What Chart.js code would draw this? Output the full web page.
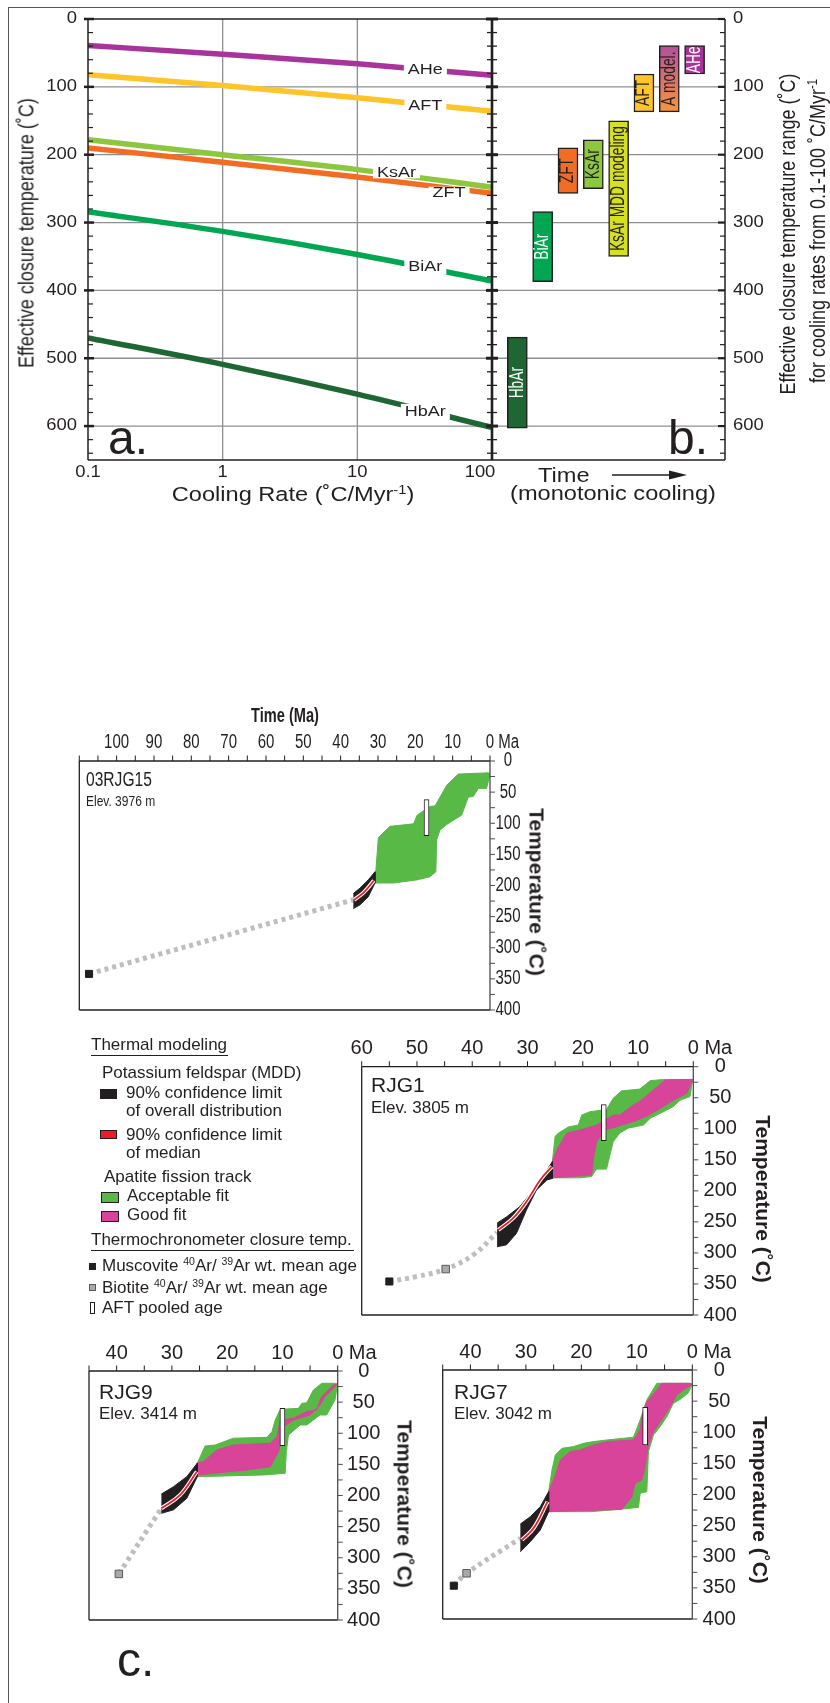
<!DOCTYPE html>
<html lang="en">
<head>
<meta charset="utf-8">
<title>Closure temperatures and thermal histories</title>
<script src="https://cdn.jsdelivr.net/npm/chart.js@4.4.1/dist/chart.umd.min.js"></script>
<style>
  body { margin: 0; background: #fff; }
  #fig { position: relative; width: 830px; height: 1703px; overflow: hidden; background: #fff;
         font-family: "Liberation Sans", Arial, Helvetica, sans-serif; color: #231f20; }
  #fig canvas { position: absolute; left: 0; top: 0; }
  .t { position: absolute; white-space: nowrap; line-height: 1; }
  .t sup { font-size: 0.62em; line-height: 0; vertical-align: 0.55em; }
  .sw { position: absolute; box-sizing: border-box; border: 1px solid #231f20; }
  .rule { position: absolute; height: 0; border-top: 1.2px solid #231f20; }
  #border { position: absolute; left: 8px; top: 7px; right: -10px; bottom: -10px;
            border-left: 1.5px solid #555; border-top: 1.5px solid #555; }
</style>
</head>
<body>
<div id="fig">
  <div id="border"></div>
  <canvas id="chartA" width="830" height="1703"></canvas>
  <canvas id="chartB" width="830" height="1703"></canvas>
  <canvas id="chart15" width="830" height="1703"></canvas>
  <canvas id="chartRJG1" width="830" height="1703"></canvas>
  <canvas id="chartRJG9" width="830" height="1703"></canvas>
  <canvas id="chartRJG7" width="830" height="1703"></canvas>
</div>
<script>
// ---- a. effective closure temperature vs cooling rate
const coolingRates = [0.1, 1, 10, 100];
const closureAHe  = [39, 52, 66, 83];
const closureAFT  = [82, 98, 116, 136];
const closureKsAr = [178, 200, 222, 248];
const closureZFT  = [190, 211, 233, 257];
const closureBiAr = [284, 313, 347, 386];
const closureHbAr = [470, 509, 553, 602];
const closureNames = ['AHe', 'AFT', 'KsAr', 'ZFT', 'BiAr', 'HbAr'];
const closureLabelRate = [32, 32, 19.5, 48, 32, 32];
const closureLabelTemp = [74, 128, 226, 256, 365, 579];
const rateTicks = [0.1, 1, 10, 100];
const rateTickLabels = ['0.1', '1', '10', '100'];
const tempTicksAB = [0, 100, 200, 300, 400, 500, 600];

// ---- b. closure temperature ranges for 0.1-100 C/Myr
const rangeNames = ['HbAr', 'BiAr', 'ZFT', 'KsAr', 'KsAr MDD modeling', 'AFT', 'A model.', 'AHe'];
const rangeLow  = [469, 284, 190, 178, 150, 81, 39, 39];
const rangeHigh = [603, 387, 257, 250, 350, 137, 137, 81];

// ---- c. thermal histories, [age Ma, temperature C]
const tempLabelsC = [0, 50, 100, 150, 200, 250, 300, 350, 400];
const ageLabels15 = [100, 90, 80, 70, 60, 50, 40, 30, 20, 10, 0];
const ageLabelsRJG1 = [60, 50, 40, 30, 20, 10, 0];
const ageLabels45 = [40, 30, 20, 10, 0];

const rjg15Acceptable = [[30.8,194],[29.9,123],[26.8,105],[20.5,101],[19.5,87],[16.1,73],[14.7,72],[11.6,39],[8.5,21],[0.4,19],[0,21],
  [0.9,44],[3.1,44],[4.5,57],[5.8,58],[7.6,87],[10.3,97],[11.6,102],[13.4,111],[14.3,127],[14.5,178],[16.1,186],[19.6,191],[25.9,196],[30.8,196]];
const rjg15Kfs = [[36.6,213],[34.8,204],[32.6,191],[30.8,178],[30.8,196],[32.6,218],[34.8,231],[36.6,237]];
const rjg15Median = [[36.4,223],[33.8,211],[31.1,192]];
const rjg15Link = [[107.4,342],[36.6,223]];
const rjg15Muscovite = [107.4, 342];
const rjg15Aft = [17, 62, 120];

const rjg1Acceptable = [[25.5,153],[25,112],[24.4,107],[22.6,97],[20.8,94],[20.2,78],[18.7,72.5],[15.7,69],[14.5,51],[13,39],[9.7,36],[7.8,22.5],[5.4,20.5],[0.1,20.5],
  [0.6,48],[2.4,54],[3.6,64],[5.4,72.5],[7.8,83],[9,94],[11.8,99],[13.3,107],[14.5,121],[15.7,165],[17.5,165],[18.4,177],[20.5,179],[25.5,179]];
const rjg1Good = [[25.5,153],[24.7,134],[22.9,107],[20.5,102],[17.5,94],[14.5,78],[13.3,78],[10.9,62],[9.7,56],[5.1,21.5],[0.1,20.5],
  [1.2,43],[3.6,54],[5.4,64],[8.4,79.5],[10.9,88.6],[13.9,96.6],[16,102],[17.5,121],[18.1,150],[18.4,174.5],[25.5,179]];
const rjg1Kfs = [[35.5,252],[33.8,242],[31.4,225.5],[29,199],[27.1,174.5],[25.5,153],[25.5,180],[26.5,182.5],[28.4,199],[30.2,231],[32,268.5],[33.8,287],[35.5,290]];
const rjg1Median = [[35.3,263],[32.6,244],[30.2,217.5],[27.7,182.5],[25.6,161]];
const rjg1Link = [[55,346],[50,338],[44.8,326],[39.8,303],[35.5,267]];
const rjg1Muscovite = [55, 346];
const rjg1Biotite = [44.8, 326];
const rjg1Aft = [16.2, 61, 119];

const rjg9Acceptable = [[25.4,148],[24,120.5],[22.2,119],[18.9,108],[12.8,106.6],[11.9,97.5],[11.3,78.7],[10.4,61.6],[7.1,60],[6.5,52],[5.6,51],[4.4,30.5],[2.9,19.8],[0.5,19.8],[0,21],
  [0.5,46.6],[2,70.7],[3.2,70.7],[4.4,78.7],[5.6,86.7],[6.8,86.7],[8.9,102.8],[9.3,129.6],[9.5,164.4],[13.4,167],[25.4,169.7]];
const rjg9Good = [[25.4,148],[24.3,145.6],[21.9,127],[18.9,119],[12.2,116],[11,105.5],[10.4,78.7],[8,76],[5.6,65],[3.8,62.6],[2.9,41],[0.8,22.5],[0,21],
  [1.1,30.5],[2.3,41],[3.2,54.6],[5,70.7],[8,78.7],[9.8,89.4],[10.7,129.6],[12.2,153.7],[16.4,159],[25.4,167]];
const rjg9Kfs = [[31.9,197.6],[29.7,185.8],[27.3,169.7],[25.4,148],[25.4,169.7],[27.3,204.5],[29.7,223],[31.9,228.6]];
const rjg9Median = [[31.9,220.6],[28.5,199],[25.5,161.7]];
const rjg9Link = [[39.6,326],[31.9,220.6]];
const rjg9Biotite = [39.6, 326];
const rjg9Aft = [10, 60, 120];

const rjg7Acceptable = [[25.9,195.4],[25.3,160.6],[24.7,136.5],[23.5,125.8],[21.4,123],[19.6,117.8],[17.8,115],[15.4,112.4],[10.6,108],[9.4,80],[8.2,48],[6.4,21.4],[0.4,21.4],[0,22.5],
  [0.7,36.4],[1.9,45.5],[3.4,53.5],[4.6,75],[5.8,91],[7,104.4],[7.9,131],[8.2,195.4],[9.4,198],[9.7,220.6],[13,223.8],[18.4,227.6],[25.9,227.6]];
const rjg7Good = [[25.9,195.4],[25,176.7],[23.8,144.6],[22,131],[20.2,128.5],[17.8,120.5],[15.4,115],[10.6,112.4],[9.4,96.4],[9.1,75],[8.2,51],[6.4,32],[5.5,21.4],[0.4,21.4],[0,22.5],
  [1.6,32],[2.8,40],[4.3,64],[7,99],[7.9,120.5],[8.5,155.3],[9.1,176.7],[10.3,182],[10.9,203.5],[12.7,223.8],[25.9,227.6]];
const rjg7Kfs = [[31,247.4],[29.2,235.6],[27.4,219.5],[25.9,195.4],[25.9,227.6],[27.4,257],[29.2,275.8],[31,292]];
const rjg7Median = [[30.7,273],[28.6,254],[26.1,211.5]];
const rjg7Link = [[43,346.5],[40.7,326.6],[31,270.4]];
const rjg7Muscovite = [43, 346.5];
const rjg7Biotite = [40.7, 326.6];
const rjg7Aft = [8.5, 60, 120.5];

// ---- colours
const W = 830, H = 1703;
const FONT = '"Liberation Sans", Arial, Helvetica, sans-serif';
const INK = '#231f20', GRID = '#8d8f92', AXIS_GREY = '#4d4d4f';
const closureColors = ['#a8339a', '#fdc52a', '#8dc63f', '#f26c23', '#00a651', '#1e6633'];
const rangeColors = ['#1e6633', '#00a651', '#f26c23', '#8dc63f', '#d5e021', '#fdc52a', '#c96b8a', '#a8339a'];
const rangeTextColors = ['#fff', '#fff', INK, INK, INK, INK, INK, '#fff'];
const FIT_OK = '#58b947', FIT_GOOD = '#d8449a', KFS = '#231f20', MEDIAN = '#ed1c24', DOT = '#bcbec0';

function seg(ctx, x1, y1, x2, y2, w, c) {
  ctx.save();
  ctx.strokeStyle = c; ctx.lineWidth = w;
  ctx.beginPath(); ctx.moveTo(x1, y1); ctx.lineTo(x2, y2); ctx.stroke();
  ctx.restore();
}

function drawText(ctx, s, x, y, o) {
  ctx.save();
  ctx.font = (o.bold ? 'bold ' : '') + o.size + 'px ' + FONT;
  ctx.fillStyle = o.color || INK;
  ctx.textAlign = o.align || 'center';
  ctx.textBaseline = 'middle';
  ctx.translate(x, y);
  if (o.rot) ctx.rotate(o.rot);
  ctx.scale(o.sx || 1, o.sy || 1);
  ctx.fillText(s, 0, 0);
  ctx.restore();
}

function pad(l, t, r, b) { return {left: l, top: t, right: W - r, bottom: H - b}; }
function pts(list) { return list.map(p => ({x: p[0], y: p[1]})); }

const common = {
  responsive: false,
  animation: false,
  events: [],
  plugins: {legend: {display: false}, tooltip: {enabled: false}},
  elements: {point: {radius: 0}}
};

// ---------------- panel a
const panelAFrame = {
  id: 'panelAFrame',
  beforeDatasetsDraw(chart) {
    const {ctx, chartArea: a, scales: {x, y}} = chart;
    [1, 10].forEach(v => { const px = x.getPixelForValue(v); seg(ctx, px, a.top, px, a.bottom, 1.3, GRID); });
    tempTicksAB.slice(1).forEach(v => { const py = y.getPixelForValue(v); seg(ctx, a.left, py, a.right, py, 1.3, GRID); });
  },
  afterDatasetsDraw(chart) {
    const {ctx, chartArea: a, scales: {x, y}} = chart;
    closureNames.forEach((name, i) => {
      const px = x.getPixelForValue(closureLabelRate[i]);
      const py = y.getPixelForValue(closureLabelTemp[i]);
      ctx.font = '15px ' + FONT;
      const w = ctx.measureText(name).width * 1.2;
      const h = (name === 'KsAr' || name === 'ZFT') ? 12 : 16;
      ctx.fillStyle = '#fff';
      ctx.fillRect(px - w / 2 - 4, py - h / 2, w + 8, h);
      drawText(ctx, name, px, py + 0.5, {size: 15, sx: 1.2});
    });
    seg(ctx, a.left, a.top, a.right, a.top, 1.5, INK);
    seg(ctx, a.left, a.bottom, a.right, a.bottom, 1.5, INK);
    seg(ctx, a.left, a.top, a.left, a.bottom, 1.5, INK);
    for (let v = 0; v <= 640; v += 20) {
      const py = y.getPixelForValue(v);
      if (v % 100 === 0) seg(ctx, a.left - 4, py, a.left + 6, py, 2.5, INK);
      else seg(ctx, a.left, py, a.left + 5, py, 1.2, INK);
    }
    tempTicksAB.forEach(v => drawText(ctx, String(v), a.left - 11, y.getPixelForValue(v), {size: 16, sx: 1.15, align: 'right'}));
    rateTicks.forEach((v, i) => drawText(ctx, rateTickLabels[i], x.getPixelForValue(v) - (i === 3 ? 12 : 0), a.bottom + 13, {size: 16, sx: 1.15}));
  }
};

const closureSeries = [closureAHe, closureAFT, closureKsAr, closureZFT, closureBiAr, closureHbAr];
new Chart(document.getElementById('chartA'), {
  type: 'line',
  data: {
    datasets: closureSeries.map((vals, i) => ({
      label: closureNames[i],
      data: vals.map((t, j) => ({x: coolingRates[j], y: t})),
      borderColor: closureColors[i],
      borderWidth: 5.5,
      borderCapStyle: 'butt',
      cubicInterpolationMode: 'monotone'
    }))
  },
  options: Object.assign({}, common, {
    layout: {padding: pad(88, 19, 492, 460)},
    scales: {
      x: {type: 'logarithmic', min: 0.1, max: 100, display: false},
      y: {type: 'linear', min: 0, max: 650, reverse: true, display: false}
    }
  }),
  plugins: [panelAFrame]
});

// ---------------- panel b
const panelBFrame = {
  id: 'panelBFrame',
  beforeDatasetsDraw(chart) {
    const {ctx, chartArea: a, scales: {y}} = chart;
    tempTicksAB.slice(1).forEach(v => { const py = y.getPixelForValue(v); seg(ctx, a.left, py, a.right, py, 1.3, GRID); });
  },
  afterDatasetsDraw(chart) {
    const {ctx, chartArea: a, scales: {y}} = chart;
    chart.getDatasetMeta(0).data.forEach((bar, i) => {
      drawText(ctx, rangeNames[i], bar.x, (bar.y + bar.base) / 2,
        {size: 13.8, sy: 1.4, rot: -Math.PI / 2, color: rangeTextColors[i]});
    });
    seg(ctx, a.left, a.top, a.right, a.top, 1.5, INK);
    seg(ctx, a.left, a.bottom, a.right, a.bottom, 1.5, INK);
    seg(ctx, a.right, a.top, a.right, a.bottom, 1.5, INK);
    seg(ctx, a.left, a.top, a.left, a.bottom, 2.6, INK);
    for (let v = 0; v <= 640; v += 20) {
      const py = y.getPixelForValue(v);
      if (v % 100 === 0) {
        seg(ctx, a.left - 6, py, a.left + 6, py, 3, INK);
        seg(ctx, a.right - 7, py, a.right, py, 2.2, INK);
      } else {
        seg(ctx, a.left - 5, py, a.left + 5, py, 1.3, INK);
        seg(ctx, a.right - 5, py, a.right, py, 1.2, INK);
      }
    }
    tempTicksAB.forEach(v => drawText(ctx, String(v), a.right + 8, y.getPixelForValue(v), {size: 16, sx: 1.15, align: 'left'}));
    // time arrow
    const ay = a.bottom + 15;
    seg(ctx, a.left + 120, ay, a.left + 180, ay, 1.5, INK);
    ctx.save();
    ctx.fillStyle = INK;
    ctx.beginPath();
    ctx.moveTo(a.left + 195, ay); ctx.lineTo(a.left + 177, ay - 4.5); ctx.lineTo(a.left + 177, ay + 4.5);
    ctx.closePath(); ctx.fill();
    ctx.restore();
  }
};

new Chart(document.getElementById('chartB'), {
  type: 'bar',
  data: {
    datasets: [{
      label: 'closure range',
      data: rangeNames.map((n, i) => ({x: i + 1, y: [rangeLow[i], rangeHigh[i]]})),
      backgroundColor: c => {
        if (c.dataIndex !== 6 || !c.chart.scales.y) return rangeColors[c.dataIndex];
        const y = c.chart.scales.y;
        const g = c.chart.ctx.createLinearGradient(0, y.getPixelForValue(rangeLow[6]), 0, y.getPixelForValue(rangeHigh[6]));
        g.addColorStop(0, '#b1509d');
        g.addColorStop(1, '#f7963a');
        return g;
      },
      borderColor: INK,
      borderWidth: 1.5,
      borderSkipped: false,
      barThickness: 20
    }]
  },
  options: Object.assign({}, common, {
    layout: {padding: pad(492, 19, 725, 460)},
    scales: {
      x: {type: 'linear', min: 0, max: 9.2, display: false, offset: false},
      y: {type: 'linear', min: 0, max: 650, reverse: true, display: false}
    }
  }),
  plugins: [panelBFrame]
});

// ---------------- panel c
function thermoFrame(cfg) {
  return {
    id: 'thermoFrame',
    afterDatasetsDraw(chart) {
      const {ctx, chartArea: a, scales: {x, y}} = chart;
      seg(ctx, a.left, a.top, a.right, a.top, 1.3, INK);
      seg(ctx, a.left, a.top, a.left, a.bottom, 1.3, INK);
      seg(ctx, a.left, a.bottom, a.right, a.bottom, 1.3, INK);
      seg(ctx, a.right, a.top, a.right, a.bottom, 1.3, AXIS_GREY);
      for (let v = 0; v <= cfg.maxAge; v += 5) {
        const px = x.getPixelForValue(v);
        seg(ctx, px, a.top - 5.5, px, a.top, 1, INK);
      }
      for (let v = 0; v <= 400; v += 25) {
        const py = y.getPixelForValue(v);
        seg(ctx, a.right, py, a.right + 5, py, 1, AXIS_GREY);
      }
      cfg.ageLabels.forEach(v => drawText(ctx, String(v), x.getPixelForValue(v), a.top - 18, {size: cfg.font, sx: cfg.sx}));
      ctx.font = cfg.font + 'px ' + FONT;
      const half = ctx.measureText('0').width * cfg.sx / 2;
      const sp = ctx.measureText(' ').width * cfg.sx;
      drawText(ctx, 'Ma', x.getPixelForValue(0) + half + sp, a.top - 18, {size: cfg.font, sx: cfg.sx, align: 'left'});
      tempLabelsC.forEach(v => drawText(ctx, String(v), a.right + cfg.gap, y.getPixelForValue(v), {size: cfg.font, sx: cfg.sx}));
    }
  };
}

function shape(list, color, order) {
  return {data: pts(list), borderColor: color, backgroundColor: color, borderWidth: 1, fill: 'shape', tension: 0, order};
}

function thermoChart(cfg) {
  const ds = [
    {data: pts(cfg.link), borderColor: DOT, borderWidth: 5, borderDash: [4, 4], tension: 0.4, order: 9},
    shape(cfg.acceptable, FIT_OK, 8)
  ];
  if (cfg.good) ds.push(shape(cfg.good, FIT_GOOD, 7));
  ds.push(shape(cfg.kfs, KFS, 6));
  ds.push({data: pts(cfg.median), borderColor: '#fff', borderWidth: 4, tension: 0.4, order: 5});
  ds.push({data: pts(cfg.median), borderColor: MEDIAN, borderWidth: 1.8, tension: 0.4, order: 4});
  ds.push({type: 'bar', data: [{x: cfg.aft[0], y: [cfg.aft[1], cfg.aft[2]]}], backgroundColor: '#fff',
           borderColor: INK, borderWidth: 1, borderSkipped: false, barThickness: 5, order: 3});
  if (cfg.bio) ds.push({data: pts([cfg.bio]), showLine: false, pointStyle: 'rect', pointRadius: 5.3,
           pointBackgroundColor: '#a7a9ac', pointBorderColor: '#58595b', pointBorderWidth: 1, order: 2});
  if (cfg.musc) ds.push({data: pts([cfg.musc]), showLine: false, pointStyle: 'rect', pointRadius: 5,
           pointBackgroundColor: KFS, pointBorderColor: KFS, pointBorderWidth: 1, order: 1});
  const b = cfg.box;
  return new Chart(document.getElementById(cfg.canvas), {
    type: 'line',
    data: {datasets: ds},
    options: Object.assign({}, common, {
      layout: {padding: pad(b[0], b[1], b[2], b[3])},
      scales: {
        x: {type: 'linear', min: 0, max: cfg.maxAge, reverse: true, display: false, offset: false},
        y: {type: 'linear', min: 0, max: 400, reverse: true, display: false}
      }
    }),
    plugins: [thermoFrame(cfg)]
  });
}

thermoChart({canvas: 'chart15', box: [79.3, 761, 490, 1010], maxAge: 110, ageLabels: ageLabels15, font: 19.5, sx: 0.77, gap: 18,
  acceptable: rjg15Acceptable, good: null, kfs: rjg15Kfs, median: rjg15Median, link: rjg15Link,
  musc: rjg15Muscovite, bio: null, aft: rjg15Aft});
thermoChart({canvas: 'chartRJG1', box: [361.7, 1066.7, 693.3, 1315], maxAge: 60, ageLabels: ageLabelsRJG1, font: 20, sx: 1, gap: 27,
  acceptable: rjg1Acceptable, good: rjg1Good, kfs: rjg1Kfs, median: rjg1Median, link: rjg1Link,
  musc: rjg1Muscovite, bio: rjg1Biotite, aft: rjg1Aft});
thermoChart({canvas: 'chartRJG9', box: [89, 1371, 337.7, 1620], maxAge: 45, ageLabels: ageLabels45, font: 20, sx: 1, gap: 26,
  acceptable: rjg9Acceptable, good: rjg9Good, kfs: rjg9Kfs, median: rjg9Median, link: rjg9Link,
  musc: null, bio: rjg9Biotite, aft: rjg9Aft});
thermoChart({canvas: 'chartRJG7', box: [442.7, 1370, 692.3, 1619], maxAge: 45, ageLabels: ageLabels45, font: 20, sx: 1, gap: 27,
  acceptable: rjg7Acceptable, good: rjg7Good, kfs: rjg7Kfs, median: rjg7Median, link: rjg7Link,
  musc: rjg7Muscovite, bio: rjg7Biotite, aft: rjg7Aft});

// ---------------- page text
const fig = document.getElementById('fig');
function put(html, x, y, o = {}) {
  const d = document.createElement('div');
  d.className = 't';
  d.innerHTML = html;
  const size = o.size || 17;
  d.style.fontSize = size + 'px';
  if (o.bold) d.style.fontWeight = 'bold';
  const sx = o.sx || 1, sy = o.sy || 1;
  if (o.rot) {
    d.style.left = x + 'px';
    d.style.top = y + 'px';
    d.style.transform = 'translate(-50%,-50%) rotate(' + o.rot + 'deg) scale(' + sx + ',' + sy + ')';
  } else {
    d.style.left = x + 'px';
    d.style.top = (y - 0.8465 * size) + 'px';   // y is the baseline
    if (o.align === 'center') {
      d.style.transformOrigin = '50% 0';
      d.style.transform = 'translateX(-50%) scale(' + sx + ',' + sy + ')';
    } else {
      d.style.transformOrigin = '0 0';
      d.style.transform = 'scale(' + sx + ',' + sy + ')';
    }
  }
  fig.appendChild(d);
}
function swatch(x, y, w, h, fill, edge) {
  const d = document.createElement('div');
  d.className = 'sw';
  Object.assign(d.style, {left: x + 'px', top: y + 'px', width: w + 'px', height: h + 'px', background: fill});
  if (edge) d.style.borderColor = edge;
  fig.appendChild(d);
}
function rule(x, y, w) {
  const d = document.createElement('div');
  d.className = 'rule';
  Object.assign(d.style, {left: x + 'px', top: y + 'px', width: w + 'px'});
  fig.appendChild(d);
}

// a / b
put('Effective closure temperature (˚C)', 25.5, 233, {size: 18, rot: -90, sy: 1.25});
put('Cooling Rate (˚C/Myr<sup>-1</sup>)', 293, 501, {size: 20, sx: 1.18, align: 'center'});
put('a.', 108, 455, {size: 48});
put('b.', 668, 455, {size: 48});
put('Time', 538, 481.5, {size: 20, sx: 1.18});
put('(monotonic cooling)', 612.5, 500, {size: 20, sx: 1.18, align: 'center'});
put('Effective closure temperature range (˚C)', 786.5, 234, {size: 18, rot: -90, sy: 1.25});
put('for cooling rates from 0.1-100 ˚C/Myr<sup>-1</sup>', 816.5, 231, {size: 18, rot: -90, sy: 1.25});

// c
put('Time (Ma)', 285, 721.7, {size: 20, bold: true, sx: 0.73, align: 'center'});
put('03RJG15', 85.7, 786.7, {size: 19.5, sx: 0.8});
put('Elev. 3976 m', 86, 806, {size: 15, sx: 0.8});
put('Temperature (˚C)', 536.5, 892, {size: 21, bold: true, rot: 90});
put('RJG1', 371, 1091.7, {size: 21});
put('Elev. 3805 m', 371, 1113.3, {size: 17});
put('Temperature (˚C)', 762.8, 1199, {size: 21, bold: true, rot: 90});
put('RJG9', 99, 1399, {size: 21});
put('Elev. 3414 m', 99, 1419, {size: 17});
put('Temperature (˚C)', 405, 1504, {size: 21, bold: true, rot: 90});
put('RJG7', 454, 1399, {size: 21});
put('Elev. 3042 m', 454, 1419, {size: 17});
put('Temperature (˚C)', 760, 1500, {size: 21, bold: true, rot: 90});
put('c.', 117, 1677, {size: 48});

// legend
put('Thermal modeling', 91, 1050.7);
rule(91, 1055, 137);
put('Potassium feldspar (MDD)', 102, 1078.3);
swatch(100, 1089, 17, 9.5, KFS);
put('90% confidence limit', 126, 1098.3);
put('of overall distribution', 126, 1116.7);
swatch(100, 1129.5, 17, 9.5, MEDIAN);
put('90% confidence limit', 126, 1140);
put('of median', 126, 1158.3);
put('Apatite fission track', 104, 1182.7);
swatch(101, 1192, 18, 10.5, FIT_OK);
put('Acceptable fit', 127, 1201.7);
swatch(101, 1210.5, 18, 11, FIT_GOOD);
put('Good fit', 127, 1220.7);
put('Thermochronometer closure temp.', 91, 1245);
rule(91, 1250, 263);
swatch(88.5, 1262.5, 7, 7, KFS);
put('Muscovite <sup>40</sup>Ar/ <sup>39</sup>Ar wt. mean age', 102, 1271.7);
swatch(88.5, 1283.5, 7, 7, '#a7a9ac', '#58595b');
put('Biotite <sup>40</sup>Ar/ <sup>39</sup>Ar wt. mean age', 102, 1293.3);
swatch(89.5, 1301.5, 5, 12, '#fff');
put('AFT pooled age', 102, 1313.3);
</script>
</body>
</html>
